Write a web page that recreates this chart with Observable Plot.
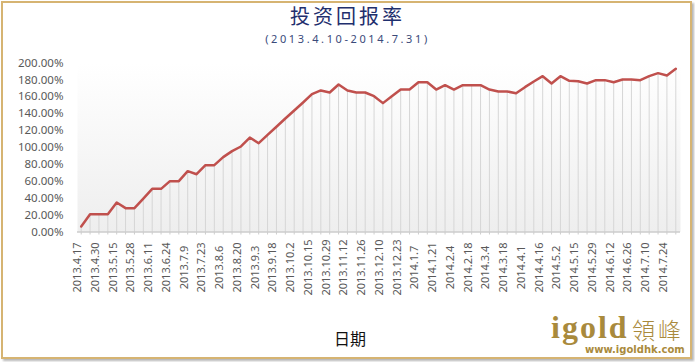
<!DOCTYPE html>
<html>
<head>
<meta charset="utf-8">
<script src="https://cdn.jsdelivr.net/npm/d3@7"></script>
<script src="https://cdn.jsdelivr.net/npm/@observablehq/plot@0.6"></script>
<style>
  html, body { margin: 0; padding: 0; background: #fff; }
  #page { position: relative; width: 695px; height: 362px; overflow: hidden; background: #fff; }
  #border { position: absolute; left: 1px; top: 1px; width: 687px; height: 354px; border: 2px solid #d6b472; box-shadow: 2px 2px 2px #b8b8b8; }
  .t { position: absolute; white-space: nowrap; }
  #title { left: 0; width: 695px; top: 6px; height: 20px; line-height: 20px; text-align: center; font-family: "Noto Sans CJK SC", sans-serif; font-size: 20px; letter-spacing: 3px; color: #1f2f6e; }
  #subtitle { left: 0; width: 695px; top: 32.5px; height: 12px; line-height: 12px; text-align: center; font-family: "Noto Sans", "DejaVu Sans", sans-serif; font-size: 11px; letter-spacing: 2.6px; color: #3a4a7a; }
  #xtitle { left: 0; width: 700px; top: 327px; line-height: 22px; text-align: center; font-family: "Noto Sans CJK SC", sans-serif; font-size: 16px; color: #111; }
  #chart { position: absolute; left: 0; top: 50px; }
  #logo1 { left: 551px; top: 311px; line-height: 32px; font-family: "Liberation Serif", serif; font-weight: bold; font-size: 32px; letter-spacing: 2px; color: #a98a3c; }
  #logo2 { left: 632px; top: 318px; line-height: 22px; font-family: "Noto Sans CJK TC", sans-serif; font-weight: 300; font-size: 23px; letter-spacing: 3px; color: #a98a3c; }
  #logo3 { left: 585px; top: 344px; line-height: 11px; font-family: "DejaVu Sans", sans-serif; font-weight: bold; font-size: 10px; color: #a98a3c; }
</style>
</head>
<body>
<div id="page">
  <div id="border"></div>
  <div class="t" id="title">投资回报率</div>
  <div class="t" id="subtitle">(2013.4.10-2014.7.31)</div>
  <div id="chart"></div>
  <div class="t" id="xtitle">日期</div>
  <div class="t" id="logo1">igold</div>
  <div class="t" id="logo2">領峰</div>
  <div class="t" id="logo3">www.igoldhk.com</div>
</div>
<script>
// Tick labels (every other weekly observation)
const dateLabels = [
  "2013.4.17","2013.4.30","2013.5.15","2013.5.28","2013.6.11","2013.6.24",
  "2013.7.9","2013.7.23","2013.8.6","2013.8.20","2013.9.3","2013.9.18",
  "2013.10.2","2013.10.15","2013.10.29","2013.11.12","2013.11.26","2013.12.10",
  "2013.12.23","2014.1.7","2014.1.21","2014.2.4","2014.2.18","2014.3.4",
  "2014.3.18","2014.4.1","2014.4.16","2014.5.2","2014.5.15","2014.5.29",
  "2014.6.12","2014.6.26","2014.7.10","2014.7.24"
];
const returns = [
  6.5, 21.1, 21.1, 21.1, 34.9, 28.2, 28.2, 39.6, 51.1, 51.1,
  60.2, 60.2, 72.0, 68.4, 79.1, 79.1, 88.6, 95.7, 101.2, 111.8,
  105.1, 115.0, 124.5, 134.3, 143.8, 153.3, 163.1, 167.5, 165.1, 174.6,
  167.5, 165.1, 165.1, 160.7, 152.5, 160.7, 168.6, 168.6, 177.3, 177.3,
  168.6, 173.8, 168.6, 173.8, 173.8, 173.8, 168.6, 166.3, 166.3, 164.3,
  171.4, 178.1, 184.4, 175.7, 184.4, 178.9, 178.5, 175.7, 179.7, 179.7,
  177.3, 180.5, 180.5, 179.7, 184.4, 188.0, 185.2, 193.1
];
const yTicks = [0, 20, 40, 60, 80, 100, 120, 140, 160, 180, 200];

const data = returns.map((v, i) => ({i, v}));
const allIdx = returns.map((_, i) => i);
const labelIdx = dateLabels.map((_, k) => k * 2);

const svg = Plot.plot({
  width: 695,
  height: 262,
  marginLeft: 77,
  marginRight: 15,
  marginTop: 12.5,
  marginBottom: 80.5,
  style: {fontFamily: "'Noto Sans', 'DejaVu Sans', sans-serif", fontSize: "11px", color: "#595959", background: "transparent"},
  x: {type: "linear", domain: [0, returns.length - 1], insetLeft: 3.7, insetRight: 4.7, axis: null},
  y: {domain: [0, 200], axis: null},
  marks: [
    Plot.frame({fill: "url(#plotbg)", stroke: "none"}),
    Plot.ruleX(data, {x: "i", y1: 0, y2: "v", stroke: "#d6d6d6", strokeWidth: 1}),
    Plot.ruleY([0], {stroke: "#cdcdcd", strokeWidth: 1.5}),
    Plot.axisX({ticks: allIdx, tickSize: 3, tickFormat: () => "", stroke: "#cdcdcd", label: null}),
    Plot.axisY({ticks: yTicks, tickSize: 0, tickPadding: 14, tickFormat: d => d.toFixed(2) + "%", fontSize: 11.5, fill: "#595959", label: null}),
    Plot.text(labelIdx, {x: d => d, frameAnchor: "bottom", dy: 35.5, rotate: -90, text: d => dateLabels[d / 2], fill: "#595959", fontSize: 11}),
    Plot.line(data, {x: "i", y: "v", stroke: "#c0504d", strokeWidth: 2.5, strokeLinejoin: "round"})
  ]
});

const defs = d3.select(svg).insert("defs", ":first-child");
const g = defs.append("linearGradient").attr("id", "plotbg").attr("x1", 0).attr("y1", 0).attr("x2", 0).attr("y2", 1);
g.append("stop").attr("offset", "0").attr("stop-color", "#ffffff");
g.append("stop").attr("offset", "0.12").attr("stop-color", "#fdfdfd");
g.append("stop").attr("offset", "1").attr("stop-color", "#eeeeee");

document.getElementById("chart").appendChild(svg);
</script>
</body>
</html>
